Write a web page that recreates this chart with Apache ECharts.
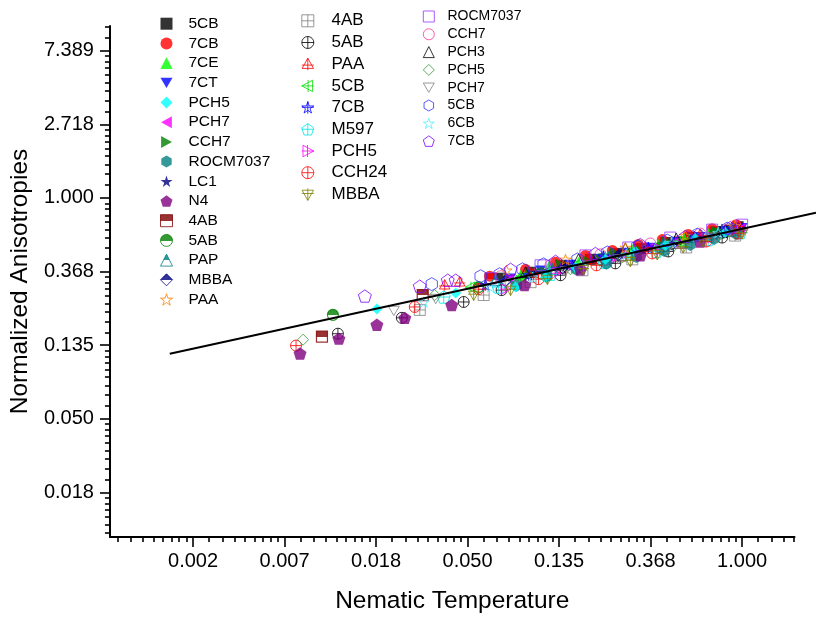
<!DOCTYPE html>
<html><head><meta charset="utf-8">
<script src="https://cdn.jsdelivr.net/npm/echarts@6/dist/echarts.min.js"></script>
<style>html,body{margin:0;padding:0;background:#fff}#c{width:816px;height:619px}</style>
</head><body><div id="c"></div>
<script>
// ---- tick labels ----
const xTickExp = [-6, -5, -4, -3, -2, -1, 0];
const xTickLabels = ['0.002', '0.007', '0.018', '0.050', '0.135', '0.368', '1.000'];
const yTickExp = [-4, -3, -2, -1, 0, 1, 2];
const yTickLabels = ['0.018', '0.050', '0.135', '0.368', '1.000', '2.718', '7.389'];

// ---- fit line ----
const fitT = [0.00196, 2.24];
const fitA = [0.1262, 0.8397];

// ---- column 1 series ----
const T_c1_5CB = [0.07143,0.09908,0.1374,0.1905,0.2503,0.3289,0.4318,0.5672,0.7453,0.9573];
const A_c1_5CB = [0.3362,0.3644,0.4004,0.4341,0.4706,0.5034,0.5457,0.5837,0.6328,0.6768];
const T_c1_7CB = [0.0634,0.09386,0.1302,0.1805,0.2423,0.3217,0.4180,0.5550,0.7210,0.9367];
const A_c1_7CB = [0.3453,0.3795,0.4169,0.4581,0.4900,0.5312,0.5682,0.6077,0.6589,0.6953];
const T_c1_7CE = [0.08882,0.1205,0.1673,0.2245,0.3013,0.4001,0.5313,0.6902,0.8773];
const A_c1_7CE = [0.3500,0.3898,0.4169,0.4520,0.4966,0.5312,0.5759,0.6160,0.6589];
const T_c1_7CT = [0.07966,0.1105,0.1532,0.2080,0.2792,0.3667,0.4869,0.6325,0.8218,1.000];
const A_c1_7CT = [0.3362,0.3744,0.4059,0.4400,0.4770,0.5102,0.5531,0.5917,0.6414,0.6678];
const T_c1_PCH5 = [0.01848,0.04372,0.08414,0.1167,0.1619,0.2245,0.3113,0.4318,0.5988,0.8311];
const A_c1_PCH5 = [0.2215,0.2747,0.2978,0.3407,0.3898,0.4341,0.4834,0.5241,0.5759,0.6243];
const T_c1_PCH7 = [0.07795,0.1081,0.1499,0.2035,0.2702,0.3587,0.4764,0.6189,0.8041,0.9782];
const A_c1_PCH7 = [0.3317,0.3595,0.3951,0.4283,0.4643,0.5034,0.5457,0.5837,0.6243,0.6589];
const T_c1_CCH7 = [0.09908,0.1374,0.1865,0.2477,0.3289,0.4366,0.5797,0.7532,0.9573];
const A_c1_CCH7 = [0.3548,0.4059,0.4226,0.4770,0.4900,0.5531,0.5759,0.6328,0.6589];
const T_c1_ROCM = [0.08504,0.1180,0.1636,0.2269,0.3147,0.4272,0.5672,0.7369,0.9367];
const A_c1_ROCM = [0.3059,0.3453,0.3795,0.4113,0.4520,0.4900,0.5312,0.5759,0.6160];
const T_c1_LC1 = [0.1047,0.1451,0.1991,0.2645,0.3510,0.4661,0.6055,0.7866,0.9892];
const A_c1_LC1 = [0.3644,0.3951,0.4341,0.4643,0.5034,0.5384,0.5837,0.6243,0.6678];
const T_c1_N4 = [0.00798,0.01220,0.01848,0.02507,0.04187,0.09279,0.1709,0.3289,0.6325];
const A_c1_N4 = [0.1209,0.1479,0.1786,0.1962,0.2337,0.3059,0.3795,0.4581,0.5531];
const T_c1_4AB = [0.01014,0.03050,0.06404,0.1374,0.2645,0.5086,0.8772];
const A_c1_4AB = [0.1519,0.2674,0.3317,0.3898,0.4581,0.5457,0.6414];
const T_c1_5AB = [0.01143,0.05618,0.1105,0.2125,0.4090,0.7453];
const A_c1_5AB = [0.2043,0.2978,0.3595,0.4341,0.5102,0.6160];
const T_c1_PAP = [0.06763,0.1259,0.2320,0.4180,0.7697];
const A_c1_PAP = [0.3272,0.3795,0.4459,0.5241,0.6243];
const T_c1_MBBA = [0.07541,0.1405,0.2587,0.4661,0.8399];
const A_c1_MBBA = [0.3229,0.3846,0.4581,0.5312,0.6328];
const T_c1_PAA = [0.07623,0.1451,0.2792,0.5370,0.9268];
const A_c1_PAA = [0.3744,0.4341,0.5102,0.5996,0.6860];

// ---- column 2 series ----
const T_c2_4AB = [0.02953,0.05934,0.09908,0.1747,0.3013,0.5430,0.9268];
const A_c2_4AB = [0.2185,0.2674,0.3185,0.3744,0.4341,0.5102,0.5996];
const T_c2_5AB = [0.01207,0.02427,0.04770,0.07218,0.1374,0.2503,0.4462,0.8041];
const A_c2_5AB = [0.1582,0.1962,0.2434,0.2860,0.3500,0.4113,0.4834,0.5837];
const T_c2_PAA = [0.03877,0.04568,0.1024,0.1905,0.3472,0.6325,0.9573];
const A_c2_PAA = [0.3059,0.3185,0.3595,0.4341,0.5102,0.6077,0.6860];
const T_c2_5CB = [0.05150,0.08882,0.1619,0.2885,0.5086,0.8311];
const A_c2_5CB = [0.2978,0.3407,0.4004,0.4706,0.5531,0.6328];
const T_c2_7CB = [0.06063,0.09693,0.1566,0.2197,0.3587,0.5925,0.8967];
const A_c2_7CB = [0.3059,0.3500,0.4004,0.4520,0.5102,0.5917,0.6589];
const T_c2_M597 = [0.03836,0.06988,0.1232,0.2221,0.3915,0.6902,0.9782];
const A_c2_M597 = [0.2603,0.2978,0.3548,0.4169,0.4834,0.5682,0.6243];
const T_c2_PCH5 = [0.07541,0.1302,0.2372,0.4090,0.7210,0.9782];
const A_c2_PCH5 = [0.2899,0.3595,0.4283,0.4966,0.5837,0.6414];
const T_c2_CCH24 = [0.00764,0.02796,0.05618,0.1081,0.2035,0.3748,0.6753,0.9573];
const A_c2_CCH24 = [0.1346,0.2275,0.2899,0.3317,0.4004,0.4706,0.5531,0.6160];
const T_c2_MBBA = [0.05322,0.07966,0.1192,0.1766,0.2949,0.3958,0.5255,0.6536,1.000];
const A_c2_MBBA = [0.2674,0.2860,0.3317,0.3795,0.4226,0.4643,0.5102,0.5531,0.6160];

// ---- column 3 series ----
const T_c3_ROCM = [0.06404,0.1105,0.1805,0.2885,0.4561,0.7210,1.000];
const A_c3_ROCM = [0.3362,0.4004,0.4581,0.5102,0.5837,0.6501,0.6953];
const T_c3_CCH7 = [0.07143,0.1232,0.2125,0.3667,0.6325,0.9367];
const A_c3_CCH7 = [0.3453,0.4004,0.4643,0.5384,0.6160,0.6768];
const T_c3_PCH3 = [0.09386,0.1673,0.2792,0.4869,0.8041];
const A_c3_PCH3 = [0.3644,0.4341,0.5034,0.5759,0.6501];
const T_c3_PCH5 = [0.00825,0.03477,0.08414,0.1532,0.2702,0.4764,0.7866];
const A_c3_PCH5 = [0.1459,0.2674,0.3272,0.3795,0.4459,0.5241,0.6077];
const T_c3_PCH7 = [0.02224,0.03516,0.08141,0.1451,0.2587,0.4462,0.7532];
const A_c3_PCH7 = [0.2156,0.2534,0.3143,0.3693,0.4341,0.5034,0.5837];
const T_c3_5CB = [0.03367,0.05742,0.07065,0.09077,0.1142,0.1654,0.2294,0.3182,0.4414,0.6122,0.8491];
const A_c3_5CB = [0.3101,0.3453,0.3548,0.3795,0.4059,0.4341,0.4770,0.5171,0.5606,0.6077,0.6589];
const T_c3_6CB = [0.03085,0.06404,0.1013,0.1709,0.2823,0.4661,0.7697];
const A_c3_6CB = [0.2434,0.2978,0.3407,0.4004,0.4643,0.5457,0.6243];
const T_c3_7CB = [0.01621,0.02953,0.04008,0.04372,0.07966,0.1302,0.2013,0.3289,0.5370,0.8772];
const A_c3_7CB = [0.2639,0.3018,0.3272,0.3272,0.3795,0.4226,0.4706,0.5312,0.5917,0.6678];

// ---- symbol shapes ----
const STAR = 'M0,-1L0.2245,-0.309L0.9511,-0.309L0.3633,0.118L0.5878,0.809L0,0.382L-0.5878,0.809L-0.3633,0.118L-0.9511,-0.309L-0.2245,-0.309Z';
const PENT = 'M0,-1L0.9511,-0.309L0.5878,0.809L-0.5878,0.809L-0.9511,-0.309Z';
const HEX = 'M0,-1L0.866,-0.5L0.866,0.5L0,1L-0.866,0.5L-0.866,-0.5Z';
const CIRC = 'M-1,0A1,1 0 1 1 1,0A1,1 0 1 1 -1,0Z';
const SYM = {
  star: 'path://' + STAR,
  pent: 'path://' + PENT,
  hex: 'path://' + HEX,
  triL: 'path://M-1,0L0.8,-1L0.8,1Z',
  triR: 'path://M1,0L-0.8,-1L-0.8,1Z',
  triD: 'path://M-1,-0.8L1,-0.8L0,0.9Z',
  sqX: 'path://M-1,-1L1,-1L1,1L-1,1Z M0,-1L0,1 M-1,0L1,0',
  cirX: 'path://' + CIRC + ' M0,-1L0,1 M-1,0L1,0',
  triUX: 'path://M0,-1L0.95,0.7L-0.95,0.7Z M0,-1L0,1 M-1,0.15L1,0.15',
  triLX: 'path://M-1,0L0.8,-0.95L0.8,0.95Z M-1,0L1,0 M0.05,-1L0.05,1',
  triRX: 'path://M1,0L-0.8,-0.95L-0.8,0.95Z M1,0L-1,0 M-0.05,-1L-0.05,1',
  triDX: 'path://M-0.95,-0.7L0.95,-0.7L0,1Z M0,-1L0,1 M-1,-0.15L1,-0.15',
  starX: 'path://' + STAR + ' M0,-1L0,0.9 M-0.95,-0.1L0.95,-0.1',
  pentX: 'path://' + PENT + ' M0,-1L0,0.809 M-0.95,-0.1L0.95,-0.1'
};

const defs = [
  {n:'1|5CB', T:T_c1_5CB, A:A_c1_5CB, s:'rect', c:'#000000', m:'fill', z:10},
  {n:'1|7CB', T:T_c1_7CB, A:A_c1_7CB, s:'circle', c:'#ff0000', m:'fill', z:11},
  {n:'1|7CE', T:T_c1_7CE, A:A_c1_7CE, s:'triangle', c:'#00ff00', m:'fill', z:11},
  {n:'1|7CT', T:T_c1_7CT, A:A_c1_7CT, s:SYM.triD, c:'#0000ff', m:'fill', z:11},
  {n:'1|PCH5', T:T_c1_PCH5, A:A_c1_PCH5, s:'diamond', c:'#00ffff', m:'fill', z:13},
  {n:'1|PCH7', T:T_c1_PCH7, A:A_c1_PCH7, s:SYM.triL, c:'#ff00ff', m:'fill', z:11},
  {n:'1|CCH7', T:T_c1_CCH7, A:A_c1_CCH7, s:SYM.triR, c:'#008000', m:'fill', z:11},
  {n:'1|ROCM7037', T:T_c1_ROCM, A:A_c1_ROCM, s:SYM.hex, c:'#008080', m:'fill', z:12},
  {n:'1|LC1', T:T_c1_LC1, A:A_c1_LC1, s:SYM.star, c:'#000080', m:'fill', z:12},
  {n:'1|N4', T:T_c1_N4, A:A_c1_N4, s:SYM.pent, c:'#800080', m:'fill', z:13},
  {n:'1|4AB', T:T_c1_4AB, A:A_c1_4AB, s:'rect', c:'#800000', m:'half', z:10},
  {n:'1|5AB', T:T_c1_5AB, A:A_c1_5AB, s:'circle', c:'#008000', m:'half', z:11},
  {n:'1|PAP', T:T_c1_PAP, A:A_c1_PAP, s:'triangle', c:'#008080', m:'half', z:11},
  {n:'1|MBBA', T:T_c1_MBBA, A:A_c1_MBBA, s:'diamond', c:'#000080', m:'half', z:11},
  {n:'1|PAA', T:T_c1_PAA, A:A_c1_PAA, s:SYM.star, c:'#ff8000', m:'hollow', z:13},
  {n:'2|4AB', T:T_c2_4AB, A:A_c2_4AB, s:SYM.sqX, c:'#808080', m:'hollow', z:11},
  {n:'2|5AB', T:T_c2_5AB, A:A_c2_5AB, s:SYM.cirX, c:'#000000', m:'hollow', z:11},
  {n:'2|PAA', T:T_c2_PAA, A:A_c2_PAA, s:SYM.triUX, c:'#ff0000', m:'hollow', z:12},
  {n:'2|5CB', T:T_c2_5CB, A:A_c2_5CB, s:SYM.triLX, c:'#00dd00', m:'hollow', z:11},
  {n:'2|7CB', T:T_c2_7CB, A:A_c2_7CB, s:SYM.starX, c:'#0000ff', m:'hollow', z:11},
  {n:'2|M597', T:T_c2_M597, A:A_c2_M597, s:SYM.pentX, c:'#00e5e5', m:'hollow', z:11},
  {n:'2|PCH5', T:T_c2_PCH5, A:A_c2_PCH5, s:SYM.triRX, c:'#ff00ff', m:'hollow', z:11},
  {n:'2|CCH24', T:T_c2_CCH24, A:A_c2_CCH24, s:SYM.cirX, c:'#ff0000', m:'hollow', z:12},
  {n:'2|MBBA', T:T_c2_MBBA, A:A_c2_MBBA, s:SYM.triDX, c:'#808000', m:'hollow', z:13},
  {n:'3|ROCM7037', T:T_c3_ROCM, A:A_c3_ROCM, s:'rect', c:'#9933ff', m:'hollow', z:12},
  {n:'3|CCH7', T:T_c3_CCH7, A:A_c3_CCH7, s:'circle', c:'#ff3399', m:'hollow', z:12},
  {n:'3|PCH3', T:T_c3_PCH3, A:A_c3_PCH3, s:'triangle', c:'#000000', m:'hollow', z:12},
  {n:'3|PCH5', T:T_c3_PCH5, A:A_c3_PCH5, s:'diamond', c:'#339933', m:'hollow', z:12},
  {n:'3|PCH7', T:T_c3_PCH7, A:A_c3_PCH7, s:SYM.triD, c:'#808080', m:'hollow', z:12},
  {n:'3|5CB', T:T_c3_5CB, A:A_c3_5CB, s:SYM.hex, c:'#3333ff', m:'hollow', z:13},
  {n:'3|6CB', T:T_c3_6CB, A:A_c3_6CB, s:SYM.star, c:'#55eeff', m:'hollow', z:12},
  {n:'3|7CB', T:T_c3_7CB, A:A_c3_7CB, s:SYM.pent, c:'#8000ff', m:'hollow', z:13}
];

function half(c) {
  return {type:'linear', x:0, y:0, x2:0, y2:1, colorStops:[
    {offset:0, color:c}, {offset:0.52, color:c}, {offset:0.52, color:'#ffffff'}, {offset:1, color:'#ffffff'}]};
}
function styleOf(d) {
  if (d.m === 'fill') return {color:d.c, borderWidth:0};
  if (d.m === 'half') return {color:half(d.c), borderColor:d.c, borderWidth:1.2};
  return {color:'rgba(255,255,255,0)', borderColor:d.c, borderWidth:1};
}

const X_MIN = -6.908, X_MAX = 0.5725, Y_MIN = -4.605, Y_MAX = 2.335;
const GRID_L = 108, GRID_T = 26, GRID_W = 686.5, GRID_H = 516.3;
const PX_PER_X = GRID_W / (X_MAX - X_MIN);
const X_MAX_WIDE = X_MIN + (816 - GRID_L) / PX_PER_X;

function minorTicks(k0, k1, lo, hi) {
  const out = [];
  for (let k = k0; k <= k1; k++) {
    for (let i = 1; i <= 8; i++) {
      const v = k + Math.log(1 + i * (Math.E - 1) / 9);
      if (v > lo && v < hi) out.push(v);
    }
  }
  return out;
}
const xMinor = minorTicks(-7, 0, X_MIN, X_MAX);
const yMinor = minorTicks(-5, 2, Y_MIN, Y_MAX);

const FONT = 'Liberation Sans, Arial, sans-serif';
const series = defs.map(d => ({
  type:'scatter', name:d.n, xAxisIndex:0, yAxisIndex:0,
  data:d.T.map((t, i) => [Math.log(t), Math.log(d.A[i])]),
  symbol:d.s, symbolSize:(d.s === SYM.hex || d.s === SYM.pent || d.s === SYM.pentX) ? 13 : 11,
  symbolKeepAspect:true, itemStyle:styleOf(d), z:d.z, silent:true
}));
series.push({
  type:'line', name:'fit', xAxisIndex:3, yAxisIndex:3,
  data:fitT.map((t, i) => [Math.log(t), Math.log(fitA[i])]),
  symbol:'none', clip:false, lineStyle:{color:'#000', width:2}, z:20, silent:true
});

function legendCol(prefix, left, top, gap, size, font, pad) {
  const data = defs.filter(d => d.n[0] === prefix).map(d => d.m === 'fill' ? {name:d.n}
    : {name:d.n, itemStyle:{borderWidth:1, borderColor:d.c}});
  return {orient:'vertical', left, top, itemGap:gap, itemWidth:size, itemHeight:size, padding:0,
    selectedMode:false, data, formatter:n => n.split('|')[1],
    textStyle:{fontFamily:FONT, fontSize:font, color:'#000', lineHeight:size, padding:[0,0,0,pad]}};
}

const axisLineStyle = {color:'#000', width:2};
const tickStyle = {color:'#000', width:1.6};
const hiddenAxis = {axisLine:{show:false, onZero:false}, axisLabel:{show:false}, splitLine:{show:false}};
const option = {
  animation:false,
  backgroundColor:'#fff',
  grid:[
    {left:GRID_L, top:GRID_T, width:GRID_W, height:GRID_H},
    {left:GRID_L, top:GRID_T, width:816 - GRID_L, height:GRID_H}
  ],
  legend:[
    legendCol('1', 160, 15.7, 3.7, 12, 15.5, 11),
    legendCol('2', 301.3, 12.3, 4.7, 12, 17, 12.7),
    legendCol('3', 422.8, 9.5, 3.8, 11, 14, 8.2)
  ],
  xAxis:[{
    type:'value', gridIndex:0, min:X_MIN, max:X_MAX, position:'bottom',
    name:'Nematic Temperature', nameLocation:'middle', nameGap:52,
    nameTextStyle:{fontFamily:FONT, fontSize:24.5, color:'#000'},
    axisLine:{show:true, onZero:false, lineStyle:axisLineStyle},
    axisTick:{show:false},
    axisLabel:{customValues:xTickExp, margin:14, fontFamily:FONT, fontSize:20, color:'#000',
      formatter:v => xTickLabels[xTickExp.indexOf(Math.round(v))]},
    splitLine:{show:false}
  }, Object.assign({
    type:'value', gridIndex:0, min:X_MIN, max:X_MAX, position:'bottom',
    axisTick:{show:true, customValues:xMinor, length:5, lineStyle:tickStyle}
  }, hiddenAxis), Object.assign({
    type:'value', gridIndex:0, min:X_MIN, max:X_MAX, position:'bottom',
    axisTick:{show:true, customValues:xTickExp, length:10, lineStyle:tickStyle}
  }, hiddenAxis), Object.assign({
    type:'value', gridIndex:1, min:X_MIN, max:X_MAX_WIDE, position:'bottom', show:false
  }, hiddenAxis)],
  yAxis:[{
    type:'value', gridIndex:0, min:Y_MIN, max:Y_MAX, position:'left',
    name:'Normalized Anisotropies', nameLocation:'middle', nameGap:66,
    nameTextStyle:{fontFamily:FONT, fontSize:24.5, color:'#000'},
    axisLine:{show:true, onZero:false, lineStyle:axisLineStyle},
    axisTick:{show:false},
    axisLabel:{customValues:yTickExp, margin:16, fontFamily:FONT, fontSize:20, color:'#000',
      formatter:v => yTickLabels[yTickExp.indexOf(Math.round(v))]},
    splitLine:{show:false}
  }, Object.assign({
    type:'value', gridIndex:0, min:Y_MIN, max:Y_MAX, position:'left',
    axisTick:{show:true, customValues:yMinor, length:5, lineStyle:tickStyle}
  }, hiddenAxis), Object.assign({
    type:'value', gridIndex:0, min:Y_MIN, max:Y_MAX, position:'left',
    axisTick:{show:true, customValues:yTickExp, length:10, lineStyle:tickStyle}
  }, hiddenAxis), Object.assign({
    type:'value', gridIndex:1, min:Y_MIN, max:Y_MAX, position:'left', show:false
  }, hiddenAxis)],
  series
};
const chart = echarts.init(document.getElementById('c'), null, {renderer:'canvas'});
chart.setOption(option);
</script></body></html>
